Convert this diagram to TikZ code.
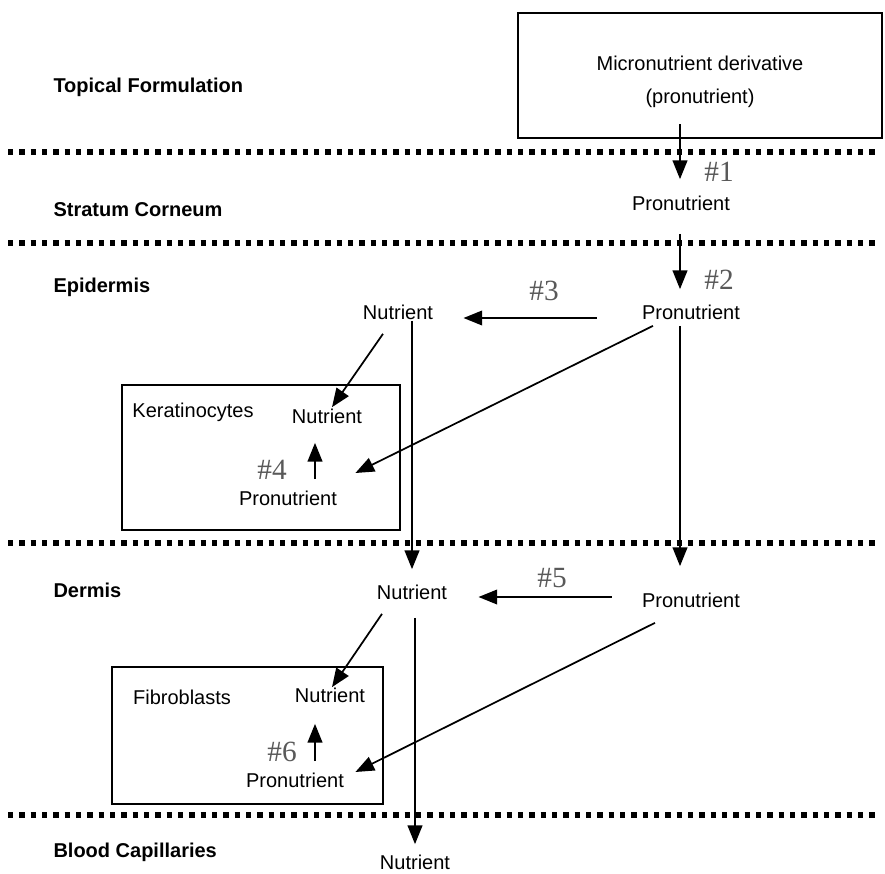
\documentclass[tikz,border=0pt]{standalone}
\usepackage{fontspec}
\setmainfont{Liberation Sans}
\newfontfamily\hashfont{Liberation Serif}
\usetikzlibrary{arrows.meta,calc}

\tikzset{every picture/.style={line width=0.75pt}}
\tikzset{
  txt/.style={inner sep=0pt, font=\fontsize{15}{18}\selectfont},
  layer/.style={anchor=west, inner sep=0pt, font=\fontsize{15}{18}\selectfont\bfseries},
  hashlbl/.style={inner sep=0pt, text=black!65, font=\hashfont\fontsize{22}{24}\selectfont},
  cellbox/.style={draw, line width=1.5pt, inner sep=0pt},
  dotline/.style={line width=4pt, dash pattern={on 4pt off 4.5pt}},
  arr/.style={line width=1.3pt, -{Triangle[length=14pt,width=11pt]}}
}

\begin{document}
\begin{tikzpicture}[x=0.75pt,y=0.75pt,yscale=-1,xscale=1]
\useasboundingbox (0,0) rectangle (885,874);

%Dotted layer borders
\draw [dotline] (8,152) -- (876,152) ;
\draw [dotline] (8,243) -- (876,243) ;
\draw [dotline] (8,543) -- (876,543) ;
\draw [dotline] (8,815) -- (876,815) ;

% Layer names
\node [layer] (lTF) at (53,87) {Topical Formulation};
\node [layer] (lSC) at (53,210) {Stratum Corneum};
\node [layer] (lEpi) at (53,287) {Epidermis};
\node [layer] (lDer) at (53,590) {Dermis};
\node [layer] (lBC) at (53,852) {Blood Capillaries};

% Boxes
\node [cellbox, minimum width=273pt, minimum height=93.75pt] (mbox) at (700,75.5) {};
\node [cellbox, minimum width=208.5pt, minimum height=108.75pt] (kbox) at (261,457.5) {};
\node [cellbox, minimum width=203.25pt, minimum height=102.75pt] (fbox) at (247.5,735.5) {};

% Text Node
\node [txt] (mtop1) at (700,63) {Micronutrient derivative};
\node [txt] (mtop2) at (700,98) {(pronutrient)};
\node [txt] (proSC) at (681,203) {Pronutrient};
\node [txt] (proEpi) at (691,312) {Pronutrient};
\node [txt] (nutEpi) at (398,312) {Nutrient};
\node [txt] (kLab) at (193,412) {Keratinocytes};
\node [txt] (kNut) at (327,416) {Nutrient};
\node [txt] (kPro) at (288,498) {Pronutrient};
\node [txt] (nutDer) at (412,592) {Nutrient};
\node [txt] (proDer) at (691,600) {Pronutrient};
\node [txt] (fLab) at (182,697) {Fibroblasts};
\node [txt] (fNut) at (330,695) {Nutrient};
\node [txt] (fPro) at (295,780) {Pronutrient};
\node [txt] (nutBC) at (415,862) {Nutrient};

% Step numbers
\node [hashlbl] (h1) at (719,172) {\#1};
\node [hashlbl] (h2) at (719,280) {\#2};
\node [hashlbl] (h3) at (544,291) {\#3};
\node [hashlbl] (h4) at (272,470) {\#4};
\node [hashlbl] (h5) at (552,578) {\#5};
\node [hashlbl] (h6) at (282,752) {\#6};

%Arrows
\draw [arr] ($(mbox.south -| proSC)+(-1,-15)$) -- ($(proSC.north)+(-1,-16)$) ;
\draw [arr] ($(proSC.south)+(-1,23)$) -- ($(proEpi.north)+(-11,-15)$) ;
\draw [arr] ($(proEpi.west)+(-45,6)$) -- ($(nutEpi.east)+(30,6)$) ;
\draw [arr] ($(proEpi.south)+(-11,6)$) -- ($(proDer.north)+(-11,-26)$) ;
\draw [arr] ($(nutEpi.south)+(14,1)$) -- ($(nutDer.north)+(0,-15)$) ;
\draw [arr] ($(nutEpi.south)+(-15,14)$) -- ($(kNut.north)+(5,-1)$) ;
\draw [arr] ($(proEpi.south)+(-38,6)$) -- ($(kPro.east)+(18,-25)$) ;
\draw [arr] ($(kPro.north)+(27,-11)$) -- ($(kNut.south)+(-12,19)$) ;
\draw [arr] ($(proDer.west)+(-30,-3)$) -- ($(nutDer.east)+(31,5)$) ;
\draw [arr] ($(nutDer.south)+(3,18)$) -- ($(nutBC.north)+(0,-10)$) ;
\draw [arr] ($(nutDer.south)+(-30,14)$) -- ($(fNut.north)+(2,0)$) ;
\draw [arr] ($(proDer.south)+(-36,15)$) -- ($(fPro.east)+(11,-8)$) ;
\draw [arr] ($(fPro.north)+(20,-11)$) -- ($(fNut.south)+(-15,21)$) ;

\end{tikzpicture}
\end{document}
